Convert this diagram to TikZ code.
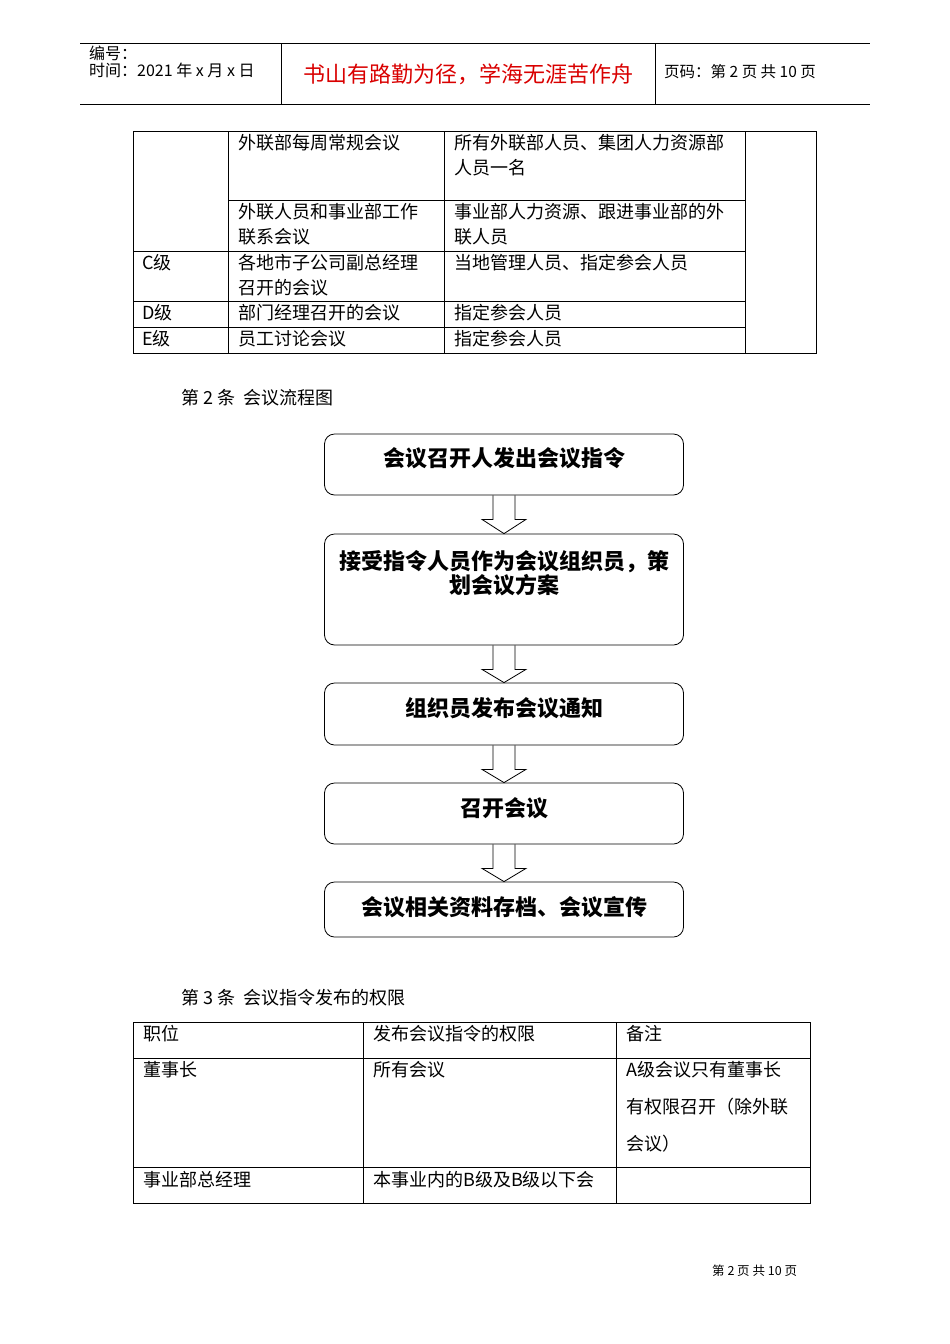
\documentclass[tikz,border=0pt]{standalone}
\usepackage{fontspec}
\setmainfont{Noto Sans CJK SC}
\begin{document}
\begin{tikzpicture}[x=1pt,y=-1pt,
 tx/.style={anchor=north west,inner sep=0pt,font=\fontsize{18}{25}\selectfont,align=left},
 fbox/.style={draw,rounded corners=10pt,minimum width=359pt,line width=0.8pt},
 ft/.style={font=\fontsize{22}{22}\bfseries\selectfont,align=center,anchor=north},
 ln/.style={line width=0.6pt}]
\useasboundingbox (0,0) rectangle (950,1344);
% header
\draw[ln] (80,43) -- (870,43) (80,104) -- (870,104) (281,43) -- (281,104) (655,43) -- (655,104);
\node[tx,font=\fontsize{16}{17}\selectfont] at (89,46) {编号：\\时间：2021 年 x 月 x 日};
\node[font=\fontsize{22}{22}\selectfont,text=red!85!black] (motto) at (468,74) {书山有路勤为径，学海无涯苦作舟};
\node[tx,font=\fontsize{15.5}{17}\selectfont] at (664,64) {页码：第 2 页 共 10 页};
% table 1
\draw[ln] (133,131) rectangle (816,353);
\draw[ln] (228,131) -- (228,353) (444,131) -- (444,353) (745,131) -- (745,353);
\draw[ln] (228,200) -- (745,200) (133,251) -- (745,251) (133,301) -- (745,301) (133,327) -- (745,327);
\node[tx] at (238,134) {外联部每周常规会议};
\node[tx] at (454,134) {所有外联部人员、集团人力资源部\\人员一名};
\node[tx] at (238,203) {外联人员和事业部工作\\联系会议};
\node[tx] at (454,203) {事业部人力资源、跟进事业部的外\\联人员};
\node[tx] at (142,254) {C级};
\node[tx] at (238,254) {各地市子公司副总经理\\召开的会议};
\node[tx] at (454,254) {当地管理人员、指定参会人员};
\node[tx] at (142,304) {D级};
\node[tx] at (238,304) {部门经理召开的会议};
\node[tx] at (454,304) {指定参会人员};
\node[tx] at (142,330) {E级};
\node[tx] at (238,330) {员工讨论会议};
\node[tx] at (454,330) {指定参会人员};
\node[tx] at (181,389) {第 2 条\ \ 会议流程图};
% flow
\node[fbox,minimum height=61pt] (b1) at (504,464.5) {};
\node[fbox,minimum height=111pt] (b2) at (504,589.5) {};
\node[fbox,minimum height=62pt] (b3) at (504,714) {};
\node[fbox,minimum height=61pt] (b4) at (504,813.5) {};
\node[fbox,minimum height=55pt] (b5) at (504,909.5) {};
\node[ft] at (504,444) {会议召开人发出会议指令};
\node[ft] at (504,547) {接受指令人员作为会议组织员，策\\划会议方案};
\node[ft] at (504,694) {组织员发布会议通知};
\node[ft] at (504,794) {召开会议};
\node[ft] at (504,893) {会议相关资料存档、会议宣传};
\foreach \a/\b in {b1/b2,b2/b3,b3/b4,b4/b5}{
 \draw[line width=0.8pt] ([xshift=-11pt]\a.south) -- ([xshift=-11pt,yshift=-24pt]\a.south)
  -- ([xshift=-22pt,yshift=-24pt]\a.south) -- (\b.north) -- ([xshift=22pt,yshift=-24pt]\a.south)
  -- ([xshift=11pt,yshift=-24pt]\a.south) -- ([xshift=11pt]\a.south);
}
% table 2
\node[tx] at (181,989) {第 3 条\ \ 会议指令发布的权限};
\draw[ln] (133,1022) rectangle (810,1203);
\draw[ln] (363,1022) -- (363,1203) (616,1022) -- (616,1203) (133,1058) -- (810,1058) (133,1167) -- (810,1167);
\node[tx] at (143,1025) {职位};
\node[tx] at (373,1025) {发布会议指令的权限};
\node[tx] at (626,1025) {备注};
\node[tx] at (143,1061) {董事长};
\node[tx] at (373,1061) {所有会议};
\node[tx,font=\fontsize{18}{37}\selectfont] at (626,1061) {A级会议只有董事长\\有权限召开（除外联\\会议）};
\node[tx] at (143,1171) {事业部总经理};
\node[tx] at (373,1171) {本事业内的B级及B级以下会};
\node[tx,font=\fontsize{12.5}{14}\selectfont] at (712,1265) {第 2 页 共 10 页};
\end{tikzpicture}
\end{document}
